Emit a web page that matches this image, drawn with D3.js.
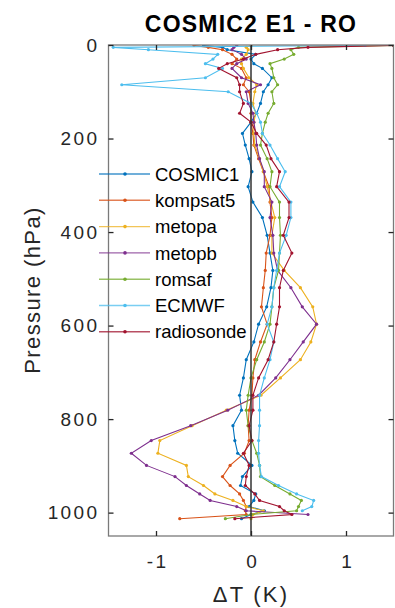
<!DOCTYPE html>
<html>
<head>
<meta charset="utf-8">
<script src="https://cdn.jsdelivr.net/npm/d3@7"></script>
<style>
  body { margin: 0; background: #fff; }
  svg { display: block; font-family: "Liberation Sans", Arial, sans-serif; }
</style>
</head>
<body>
<svg id="chart" width="395" height="608"></svg>
<script>
// pressure levels (hPa) shared by all profiles
var levels = [1, 5, 10, 20, 30, 40, 50, 70, 85, 100,
  125, 146, 165, 189, 214, 243, 271, 303, 336, 369,
  407, 445, 482, 519, 560, 597, 635, 673, 712, 749,
  781, 814, 846, 873, 899, 923, 942, 960, 974, 987,
  996, 1004, 1013];

// mean temperature difference (K) at each level
var cosmic1 = [-0.5, -0.3, -0.25, 0.05, 0.0, 0.03, 0.12, 0.22, 0.18, 0.13,
  0.1, 0.06, 0.0, -0.09, -0.06, -0.02, 0.01, -0.03, 0.02, 0.12,
  0.17, 0.2, 0.23, 0.21, 0.165, 0.08, 0.03, -0.05, -0.08, -0.12,
  -0.1, -0.19, -0.17, -0.14, 0.01, -0.09, -0.11, 0.05, 0.03, -0.02,
  0.14, 0.0, -0.1];
var kompsat5 = [-0.6, -0.45, -0.3, -0.2, -0.15, -0.2, -0.1, -0.05, -0.08, -0.02,
  0.0, 0.0, 0.0, 0.02, 0.03, 0.08, 0.13, 0.19, 0.2, 0.22,
  0.2, 0.16, 0.15, 0.13, 0.11, 0.17, 0.1, 0.04, 0.02, 0.01,
  -0.02, -0.03, -0.02, -0.07, -0.22, -0.3, -0.22, -0.12, -0.08, -0.05,
  -0.06, -0.05, -0.75];
var metopa = [0.0, -0.05, -0.03, -0.05, -0.1, -0.1, -0.08, -0.02, 0.06, 0.04,
  0.02, 0.05, 0.03, 0.03, 0.04, 0.09, 0.13, 0.17, 0.21, 0.25,
  0.22, 0.22, 0.35, 0.52, 0.65, 0.69, 0.63, 0.52, 0.31, 0.105,
  -0.26, -0.62, -0.96, -0.98, -0.68, -0.66, -0.5, -0.38, -0.19, -0.05,
  0.13, 0.02, 0.0];
var metopb = [-0.15, -0.18, -0.2, -0.1, -0.05, -0.15, -0.2, -0.1, 0.1, -0.05,
  -0.03, 0.02, 0.03, 0.05, 0.06, 0.09, 0.14, 0.14, 0.22, 0.2,
  0.23, 0.24, 0.28, 0.42, 0.54, 0.69, 0.55, 0.41, 0.26, 0.08,
  -0.245, -0.635, -1.05, -1.26, -1.1, -0.8, -0.68, -0.54, -0.43, -0.15,
  -0.05, 0.6, null];
var romsaf = [1.5, 0.5, 0.42, 0.45, 0.35, 0.2, 0.22, 0.24, 0.28, 0.22,
  0.24, 0.18, 0.15, 0.12, 0.1, 0.17, 0.22, 0.2, 0.3, 0.3,
  0.31, 0.3, 0.29, 0.24, 0.22, 0.2, 0.14, 0.06, 0.0, -0.03,
  -0.05, -0.03, 0.01, 0.06, 0.09, 0.1, 0.25, 0.41, 0.53, 0.5,
  0.48, 0.0, -0.27];
var ecmwf = [1.2, -1.45, -1.08, -0.35, -0.4, -0.48, -0.3, -0.48, -1.36, -0.24,
  0.0, 0.06, 0.1, 0.12, 0.2, 0.28, 0.36, 0.3, 0.42, 0.42,
  0.37, 0.3, 0.27, 0.24, 0.22, 0.17, 0.24, 0.2, 0.14, 0.09,
  0.09, 0.09, 0.08, 0.08, 0.09, 0.11, 0.29, 0.48, 0.66, 0.64,
  0.54, null, null];
var radiosonde = [1.5, 0.6, 0.28, 0.05, -0.08, -0.25, -0.34, -0.15, -0.12, -0.12,
  -0.08, -0.12, 0.0, 0.06, 0.16, 0.21, 0.3, 0.27, 0.4, 0.4,
  0.34, 0.43, 0.34, 0.3, 0.3, 0.27, 0.24, 0.18, 0.08, 0.02,
  0.02, -0.02, 0.01, -0.08, -0.02, -0.05, -0.06, 0.04, 0.09, 0.3,
  0.35, 0.43, -0.17];

var names = ["COSMIC1", "kompsat5", "metopa", "metopb", "romsaf", "ECMWF", "radiosonde"];
var colors = ["#0072BD", "#D95319", "#EDB120", "#7E2F8E", "#77AC30", "#4DBEEE", "#A2142F"];
var seriesValues = [cosmic1, kompsat5, metopa, metopb, romsaf, ecmwf, radiosonde];
var xTicks = [-1, 0, 1];
var yTicks = [0, 200, 400, 600, 800, 1000];

drawChart();

function drawChart() {
  var svg = d3.select("#chart");
  var axLeft = 108.5, axRight = 393.5, axTop = 45, axBottom = 536;

  var x = d3.scaleLinear().domain([-1.5, 1.5]).range([axLeft, axRight]);
  var y = d3.scaleLinear().domain([0, 1050]).range([axTop, axBottom]);

  svg.append("defs").append("clipPath").attr("id", "plot-clip")
    .append("rect").attr("x", axLeft).attr("y", axTop)
    .attr("width", axRight - axLeft).attr("height", axBottom - axTop);

  // profiles
  var plot = svg.append("g").attr("clip-path", "url(#plot-clip)");
  var line = d3.line()
    .defined(function(d) { return d.v !== null; })
    .x(function(d) { return x(d.v); })
    .y(function(d) { return y(d.p); });

  seriesValues.forEach(function(vals, i) {
    var pts = levels.map(function(p, j) { return {p: p, v: vals[j]}; });
    plot.append("path").datum(pts)
      .attr("d", line)
      .attr("fill", "none")
      .attr("stroke", colors[i])
      .attr("stroke-width", 1.1);
    plot.selectAll(null).data(pts.filter(function(d) { return d.v !== null; }))
      .enter().append("circle")
      .attr("cx", function(d) { return x(d.v); })
      .attr("cy", function(d) { return y(d.p); })
      .attr("r", 1.6)
      .attr("fill", colors[i]);
  });

  // zero line
  svg.append("line")
    .attr("x1", x(0)).attr("x2", x(0)).attr("y1", axTop).attr("y2", axBottom)
    .attr("stroke", "#333").attr("stroke-width", 1.5);

  // axes box
  svg.append("rect")
    .attr("x", axLeft).attr("y", axTop).attr("width", axRight - axLeft).attr("height", axBottom - axTop)
    .attr("fill", "none").attr("stroke", "#7a7a7a").attr("stroke-width", 1.3);

  function styleAxis(g) {
    g.select(".domain").remove();
    g.selectAll(".tick line").attr("stroke", "#262626").attr("stroke-width", 1.3);
    g.selectAll(".tick text").attr("fill", "#262626").style("font-size", "19px").style("letter-spacing", "2.4px");
  }
  var plain = function(d) { return String(d); };

  svg.append("g").attr("transform", "translate(0," + axBottom + ")")
    .call(d3.axisBottom(x).tickValues(xTicks).tickSize(-5).tickPadding(19).tickFormat(plain))
    .call(styleAxis)
    .selectAll(".tick text").attr("dx", "1.2px");
  svg.append("g").attr("transform", "translate(0," + axTop + ")")
    .call(d3.axisTop(x).tickValues(xTicks).tickSize(-5).tickFormat(""))
    .call(styleAxis);
  svg.append("g").attr("transform", "translate(" + axLeft + ",0)")
    .call(d3.axisLeft(y).tickValues(yTicks).tickSize(-5).tickPadding(9).tickFormat(plain))
    .call(styleAxis);
  svg.append("g").attr("transform", "translate(" + axRight + ",0)")
    .call(d3.axisRight(y).tickValues(yTicks).tickSize(-5).tickFormat(""))
    .call(styleAxis);

  // title and labels
  svg.append("text").attr("x", 251).attr("y", 32).attr("text-anchor", "middle")
    .style("font-size", "23px").style("font-weight", "bold").style("letter-spacing", "1.2px")
    .attr("fill", "#000").text("COSMIC2 E1 - RO");
  svg.append("text").attr("x", 251).attr("y", 602).attr("text-anchor", "middle")
    .style("font-size", "22px").style("letter-spacing", "2.2px")
    .attr("fill", "#262626").text("\u0394T (K)");
  svg.append("text").attr("transform", "translate(40,290) rotate(-90)").attr("text-anchor", "middle")
    .style("font-size", "22px").style("letter-spacing", "1.4px")
    .attr("fill", "#262626").text("Pressure (hPa)");

  // legend (no box)
  var legend = svg.append("g");
  names.forEach(function(name, i) {
    var ly = 174 + i * 26.3;
    legend.append("line").attr("x1", 99).attr("x2", 150).attr("y1", ly).attr("y2", ly)
      .attr("stroke", colors[i]).attr("stroke-width", 1.4).attr("stroke-opacity", 0.75);
    legend.append("circle").attr("cx", 125).attr("cy", ly).attr("r", 1.8).attr("fill", colors[i]);
    legend.append("text").attr("x", 155).attr("y", ly + 6.6)
      .style("font-size", "18.5px").attr("fill", "#000").text(name);
  });
}
</script>
</body>
</html>
